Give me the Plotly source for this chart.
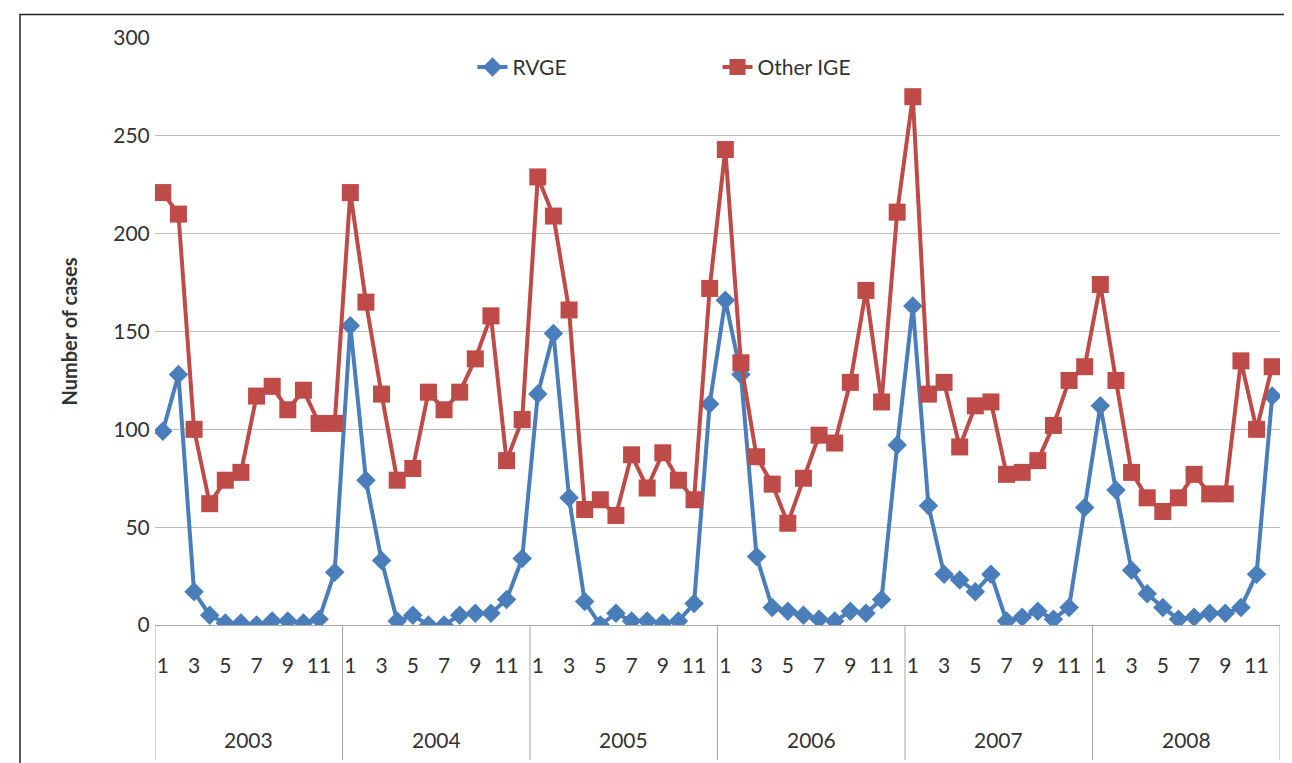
import plotly.graph_objects as go

years = ["2003", "2004", "2005", "2006", "2007", "2008"]
months = list(range(1, 13))

rvge = [99, 128, 17, 5, 1, 1, 0, 2, 2, 1, 3, 27,
        153, 74, 33, 2, 5, 0, 0, 5, 6, 6, 13, 34,
        118, 149, 65, 12, 0, 6, 2, 2, 1, 2, 11, 113,
        166, 128, 35, 9, 7, 5, 3, 2, 7, 6, 13, 92,
        163, 61, 26, 23, 17, 26, 2, 4, 7, 3, 9, 60,
        112, 69, 28, 16, 9, 3, 4, 6, 6, 9, 26, 117]
other_ige = [221, 210, 100, 62, 74, 78, 117, 122, 110, 120, 103, 103,
             221, 165, 118, 74, 80, 119, 110, 119, 136, 158, 84, 105,
             229, 209, 161, 59, 64, 56, 87, 70, 88, 74, 64, 172,
             243, 134, 86, 72, 52, 75, 97, 93, 124, 171, 114, 211,
             270, 118, 124, 91, 112, 114, 77, 78, 84, 102, 125, 132,
             174, 125, 78, 65, 58, 65, 77, 67, 67, 135, 100, 132]

x = list(range(len(rvge)))
tickvals = [i for i in x if i % 2 == 0]
ticktext = [str(months[i % 12]) for i in tickvals]

fig = go.Figure()
fig.add_trace(go.Scatter(x=x, y=rvge, mode="lines+markers", name="RVGE",
                         line=dict(color="#4a7ebb", width=4),
                         marker=dict(symbol="diamond", size=15, color="#4a7ebb")))
fig.add_trace(go.Scatter(x=x, y=other_ige, mode="lines+markers", name="Other IGE",
                         line=dict(color="#be4b48", width=4),
                         marker=dict(symbol="square", size=17, color="#be4b48")))

shapes = []
for k in range(len(years) + 1):
    shapes.append(dict(type="line", xref="x", yref="paper", x0=k * 12 - 0.5, x1=k * 12 - 0.5,
                       y0=0, y1=-0.23, line=dict(color="#a6a6a6", width=1)))
shapes.append(dict(type="rect", xref="paper", yref="paper", x0=-0.12, x1=1.015, y0=-0.25, y1=1.04,
                   line=dict(color="#222", width=1.5)))

annotations = [dict(x=k * 12 + 5.5, y=-0.22, xref="x", yref="paper", text=yr, showarrow=False,
                    yanchor="bottom", font=dict(size=21, color="#333"))
               for k, yr in enumerate(years)]

fig.update_layout(
    width=1292, height=763,
    margin=dict(l=147, r=20, t=30, b=146),
    plot_bgcolor="white", paper_bgcolor="white",
    font=dict(family="Lato", size=21, color="#333"),
    xaxis=dict(range=[-0.5, 71.5], tickvals=tickvals, ticktext=ticktext, showgrid=False,
               showline=True, linecolor="#a6a6a6", ticks="outside", ticklen=22, tickcolor="white",
               zeroline=False),
    yaxis=dict(range=[0, 300], dtick=50, showgrid=True, gridcolor="#bfbfbf", zeroline=False,
               title=dict(text="<b>Number of cases</b>", font=dict(size=20), standoff=30),
               ticks="outside", ticklen=0),
    legend=dict(orientation="h", x=0.5, xanchor="center", y=0.95, yanchor="middle",
                font=dict(size=21), bgcolor="rgba(0,0,0,0)", entrywidth=200),
    shapes=shapes, annotations=annotations,
)

fig.write_html("out.html")
